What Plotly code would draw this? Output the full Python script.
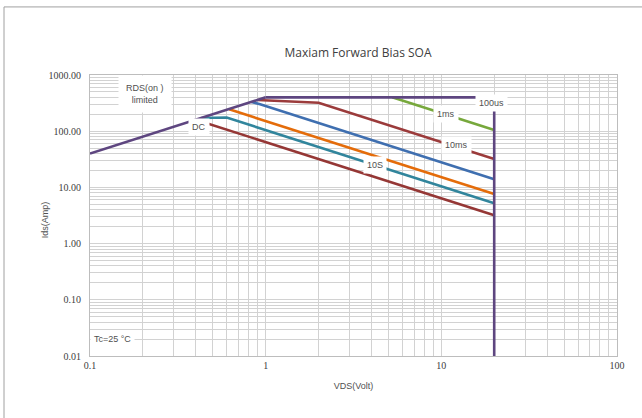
import math
import plotly.graph_objects as go

# ---- data ----
rds_v = [0.1, 1.0]
rds_i = [40, 400]
us100_v = [1.0, 20, 20]
us100_i = [400, 400, 0.01]
ms1_v = [5.25, 20]
ms1_i = [400, 105]
ms10_v = [0.9, 2.0, 20]
ms10_i = [360, 320, 32]
ms100_v = [0.83, 0.93, 20]
ms100_i = [332, 302, 14]
s1_v = [0.62, 20]
s1_i = [245, 7.6]
s10_v = [0.43, 0.6, 20]
s10_i = [172, 175, 5.2]
dc_v = [0.4, 20]
dc_i = [160, 3.2]

y_tickvals = [0.01, 0.1, 1, 10, 100, 1000]
y_ticktext = ["0.01", "0.10", "1.00", "10.00", "100.00", "1000.00"]
x_tickvals = [0.1, 1, 10, 100]
x_ticktext = ["0.1", "1", "10", "100"]

# label texts with anchor values (data units)
label_text = ["DC", "10S", "10ms", "1ms", "100us", "RDS(on )<br>limited", "Tc=25 °C"]
label_v = [0.42, 4.2, 12.2, 10.6, 19.3, 0.2056, 0.135]
label_i = [120, 25.5, 57, 205, 320, 452, 0.0198]

series = [
    (dc_v, dc_i, "#953735"),
    (s10_v, s10_i, "#31859c"),
    (s1_v, s1_i, "#e46c0a"),
    (ms100_v, ms100_i, "#3f6fb0"),
    (ms10_v, ms10_i, "#9b3b3b"),
    (ms1_v, ms1_i, "#77a83c"),
    (rds_v, rds_i, "#5e4680"),
    (us100_v, us100_i, "#5e4680"),
]

fig = go.Figure()
for xs, ys, col in series:
    fig.add_trace(go.Scatter(x=xs, y=ys, mode="lines",
                             line=dict(color=col, width=2.6),
                             showlegend=False, hoverinfo="skip"))

for txt, lx, ly in zip(label_text, label_v, label_i):
    big = "<br>" in txt
    fig.add_annotation(x=math.log10(lx), y=math.log10(ly), xref="x", yref="y", text=txt,
                       showarrow=False, bgcolor="white",
                       font=dict(family="Liberation Sans", size=9, color="#505050"),
                       borderpad=7 if big else 3)

grid_col = "#d2d2d2"
fig.update_xaxes(type="log", range=[-1, 2], tickvals=x_tickvals, ticktext=x_ticktext,
                 showgrid=True, gridcolor=grid_col, gridwidth=1,
                 minor=dict(dtick="D1", showgrid=True, gridcolor=grid_col, gridwidth=1),
                 showline=True, linecolor="#bdbdbd", mirror=True,
                 ticks="", zeroline=False,
                 tickfont=dict(family="Liberation Serif", size=10, color="#404040"),
                 title=dict(text="VDS(Volt)", standoff=12,
                            font=dict(family="Liberation Sans", size=9, color="#505050")))
fig.update_yaxes(type="log", range=[-2, 3], tickvals=y_tickvals, ticktext=y_ticktext,
                 showgrid=True, gridcolor=grid_col, gridwidth=1,
                 minor=dict(dtick="D1", showgrid=True, gridcolor=grid_col, gridwidth=1),
                 showline=True, linecolor="#bdbdbd", mirror=True,
                 ticks="", zeroline=False, ticklabelstandoff=6,
                 tickfont=dict(family="Liberation Serif", size=10, color="#404040"))

# y-axis title as annotation (placed close to the short tick labels)
fig.add_annotation(x=-45/527, xref="paper", xanchor="center", y=math.log10(2.6), yref="y",
                   text="Ids(Amp)", textangle=-90, showarrow=False,
                   font=dict(family="Liberation Sans", size=9, color="#505050"))

fig.add_shape(type="line", xref="paper", yref="paper", x0=-86/527, x1=1.2, y0=1 + 68/280.7, y1=1 + 68/280.7,
              line=dict(color="#a0a0a0", width=1))
fig.add_shape(type="line", xref="paper", yref="paper", x0=-86/527, x1=-86/527, y0=-0.3, y1=1 + 68/280.7,
              line=dict(color="#a0a0a0", width=1))

fig.update_layout(
    width=642, height=418,
    margin=dict(l=90, r=25, t=75, b=62),
    paper_bgcolor="white", plot_bgcolor="white",
    title=dict(text="Maxiam Forward Bias SOA", x=358/642, xanchor="center",
               y=1 - 53/418, yanchor="middle",
               font=dict(family="Open Sans", size=12, color="#404040")),
)

fig.write_html("out.html", post_script="document.body.style.margin='0';",
               config={"displayModeBar": False})
